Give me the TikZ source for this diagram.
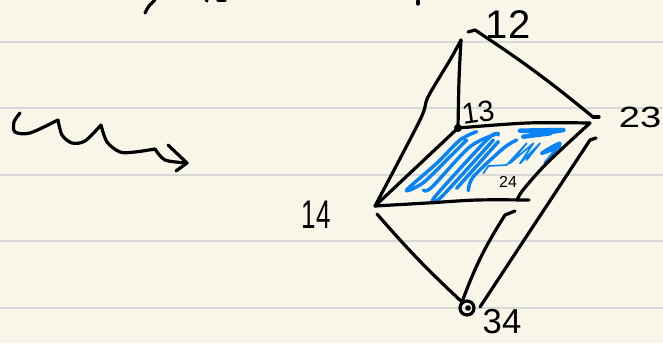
\documentclass[tikz,border=0pt]{standalone}
\usepackage{fontspec}
\setmainfont{Liberation Sans}
\definecolor{paper}{HTML}{F8F6E9}
\definecolor{rule}{HTML}{D8D8D6}
\definecolor{scribble}{HTML}{0A84F5}
\tikzset{
  pen/.style={line width=2.4pt, line cap=round, line join=round},
  bluepen/.style={scribble, line width=2.6pt, line cap=round, line join=round},
  biglabel/.style={inner sep=0pt, font=\fontsize{30}{30}\selectfont},
  midlabel/.style={inner sep=0pt, font=\fontsize{22}{22}\selectfont},
  tinylabel/.style={inner sep=0pt, font=\fontsize{12}{12}\selectfont},
}
\begin{document}
\begin{tikzpicture}[x=.75pt, y=-.75pt]
  \useasboundingbox (0,0) rectangle (663,343);
  \clip (0,0) rectangle (663,343);
  \fill[paper] (0,0) rectangle (663,343);
  % ruled lines
  \foreach \y in {42,108,175,241,308} {
    \draw[rule, line width=1pt] (0,\y) -- (663,\y);
  }
  % corners of the solid
  \coordinate (v12) at (475,30);
  \coordinate (v12b) at (461,40);
  \coordinate (v13) at (458,128);
  \coordinate (v23) at (593,117);
  \coordinate (v23b) at (590,123);
  \coordinate (v23c) at (590,140);
  \coordinate (v14) at (375,206);
  \coordinate (v14b) at (377,214);
  \coordinate (v24) at (529,200);
  \coordinate (v24b) at (505,215);
  \coordinate (v34) at (462,302);
  \coordinate (v34b) at (480,307);
  % shaded face
  \begin{scope}[shift={(360,0)}, x=.25pt, y=-.25pt]
    \draw[bluepen] plot[smooth] coordinates {(350,395) (300,420) (230,490) (140,570) (190,548) (270,470) (320,420)};
    \draw[bluepen] plot[smooth] coordinates {(190,570) (215,562) (330,440) (415,400)};
    \draw[bluepen] plot[smooth] coordinates {(415,405) (385,415) (225,590) (245,590) (400,420)};
    \draw[bluepen] (290,565) -- (415,425);
    \draw[bluepen] plot[smooth] coordinates {(325,572) (340,530) (430,445) (470,420)};
    \draw[bluepen, line width=1.3pt] (370,520) -- (385,498) -- (440,495) -- (500,430) -- (450,490) -- (520,430) -- (480,490) -- (540,430) -- (500,480);
    \draw[bluepen] plot[smooth] coordinates {(555,490) (600,430) (545,460) (600,440)};
    \draw[bluepen, line width=3.4pt] (480,392) -- (610,390) -- (490,410) -- (570,400);
  \end{scope}
  % edges
  \draw[pen] (468,32) -- (v12);
  \draw[pen] (v12) to[bend left=3] (v23);
  \draw[pen] (v23) -- (599,117);
  \draw[pen] plot[smooth] coordinates {(v12b) (459,80) (v13)};
  \draw[pen] plot[smooth] coordinates {(v12b) (450,60) (428,97) (420,120) (v14)};
  \draw[pen] (v13) -- (v14);
  \draw[pen] plot[smooth] coordinates {(v13) (527,123) (v23b)};
  \draw[pen] plot[smooth] coordinates {(v23b) (547,163) (523,190) (517,200)};
  \draw[pen] plot[smooth] coordinates {(v14) (427,203) (477,200) (v24)};
  \draw[pen] (v14b) to[bend right=3] (v34);
  \draw[pen] (515,211) -- (v24b);
  \draw[pen] (v24b) to[bend right=6] (v34);
  \draw[pen] (596,138) -- (v23c);
  \draw[pen] (v23c) -- (v34b);
  \draw[pen] (467,308) circle (7);
  \draw[pen] (468,308) circle (1.5);
  \fill (v13) circle (4);
  % labels
  \node[biglabel] (n12) at (508,25) {12};
  \node[midlabel, rotate=8] (n13) at (478,112) {13};
  \node[midlabel, xscale=1.3] (n23) at (640,117) {23};
  \node[biglabel, xscale=.65] (n14) at (316,215) {14};
  \node[tinylabel] (n24) at (508,182) {24};
  \node[font=\fontsize{26}{26}\selectfont, inner sep=0pt] (n34) at (502,322) {34};
  % wavy arrow
  \coordinate (tail) at (20,113);
  \coordinate (tip) at (187,163);
  \draw[pen] plot[smooth] coordinates {(tail) (14,122) (15,132) (30,133) (58,120)};
  \draw[pen] plot[smooth] coordinates {(58,120) (62,135) (72,143) (85,141) (101,125)};
  \draw[pen] plot[smooth] coordinates {(101,125) (107,142) (120,152) (135,152) (155,149)};
  \draw[pen] plot[smooth] coordinates {(155,149) (165,160) (tip)};
  \draw[pen] (168,145) -- (tip) -- (176,171);
  % writing cut off at the top
  \draw[pen] plot[smooth] coordinates {(145,13) (149,6) (155,0)};
  \draw[pen] (206,-1) -- (207,1);
  \draw[pen] (218,0) -- (225,0);
  \draw[pen] (418,1) -- (418,4);
\end{tikzpicture}
\end{document}
